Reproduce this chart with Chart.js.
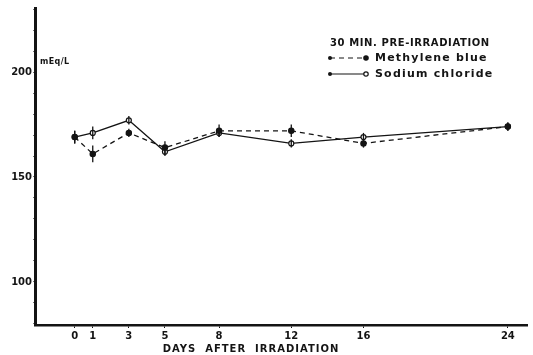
<!DOCTYPE html>
<html>
<head>
<meta charset="utf-8">
<script src="https://cdn.jsdelivr.net/npm/chart.js@4/dist/chart.umd.min.js"></script>
<style>
  body { margin: 0; background: #fff; }
  #wrap { width: 533px; height: 355px; }
</style>
</head>
<body>
<div id="wrap"><canvas id="chart" width="533" height="355"></canvas></div>
<script>
// values (mEq/L)
const days = [0, 1, 3, 5, 8, 12, 16, 24];
const methyleneBlue = [169, 161, 171, 164, 172, 172, 166, 174];
const methyleneErr = [3, 4, 2, 3, 3, 3, 2, 2];
const sodiumChloride = [169, 171, 177, 162, 171, 166, 169, 174];
const sodiumErr = [3, 3, 2, 2, 2, 2, 2, 2];
const yLabels = [100, 150, 200];
const legendTitle = "30 MIN. PRE-IRRADIATION";

const ink = "#141414";
const font = '"DejaVu Sans", sans-serif';

// error bars, legend and loose labels
const extras = {
  id: "extras",
  afterDatasetsDraw(chart) {
    const ctx = chart.ctx;
    const xs = chart.scales.x, ys = chart.scales.y;
    ctx.save();
    ctx.strokeStyle = ink;
    ctx.lineWidth = 1.3;
    [[methyleneBlue, methyleneErr], [sodiumChloride, sodiumErr]].forEach(function (pair) {
      pair[0].forEach(function (v, i) {
        var px = xs.getPixelForValue(days[i]);
        ctx.beginPath();
        ctx.moveTo(px, ys.getPixelForValue(v - pair[1][i]));
        ctx.lineTo(px, ys.getPixelForValue(v + pair[1][i]));
        ctx.stroke();
      });
    });

    ctx.fillStyle = ink;
    ctx.textBaseline = "middle";
    ctx.letterSpacing = "0.4px";
    ctx.font = "bold 8px " + font;
    ctx.fillText("mEq/L", 40, 62);

    // legend
    ctx.font = "bold 10px " + font;
    ctx.letterSpacing = "0.6px";
    ctx.fillText(legendTitle, 330, 43);
    ctx.font = "bold 11px " + font;
    ctx.letterSpacing = "1.2px";
    chart.data.datasets.forEach(function (ds, i) {
      var y = 58 + i * 16;
      ctx.beginPath();
      ctx.setLineDash(ds.borderDash || []);
      ctx.lineWidth = 1.2;
      ctx.moveTo(330, y);
      ctx.lineTo(366, y);
      ctx.stroke();
      ctx.setLineDash([]);
      ctx.beginPath();
      ctx.arc(330, y, 2, 0, Math.PI * 2);
      ctx.fillStyle = ink;
      ctx.fill();
      ctx.beginPath();
      ctx.arc(366, y, 2.2, 0, Math.PI * 2);
      ctx.fillStyle = ds.pointBackgroundColor;
      ctx.fill();
      ctx.stroke();
      ctx.fillStyle = ink;
      ctx.fillText(ds.label, 375, y);
    });

    // x axis title
    ctx.font = "bold 10px " + font;
    ctx.letterSpacing = "1px";
    ctx.textAlign = "center";
    ctx.fillText("DAYS  AFTER  IRRADIATION", 251, 349);
    ctx.restore();
  }
};

new Chart(document.getElementById("chart"), {
  type: "line",
  data: {
    datasets: [
      {
        label: "Methylene blue",
        data: days.map(function (d, i) { return { x: d, y: methyleneBlue[i] }; }),
        borderColor: ink,
        borderWidth: 1.3,
        borderDash: [5, 4],
        pointRadius: 2.6,
        pointBackgroundColor: ink,
        pointBorderColor: ink,
        tension: 0
      },
      {
        label: "Sodium chloride",
        data: days.map(function (d, i) { return { x: d, y: sodiumChloride[i] }; }),
        borderColor: ink,
        borderWidth: 1.3,
        pointRadius: 2.5,
        pointBackgroundColor: "#fff",
        pointBorderColor: ink,
        pointBorderWidth: 1.2,
        tension: 0
      }
    ]
  },
  options: {
    responsive: false,
    animation: false,
    devicePixelRatio: 1,
    layout: { padding: { top: 8, right: 3 } },
    plugins: { legend: { display: false }, tooltip: { enabled: false } },
    scales: {
      x: {
        type: "linear",
        min: -2.2,
        max: 25.1,
        afterBuildTicks: function (scale) {
          scale.ticks = days.map(function (d) { return { value: d }; });
        },
        afterFit: function (scale) { scale.height = 30; },
        border: { display: true, color: ink, width: 2.5 },
        grid: { drawOnChartArea: false, drawTicks: true, tickLength: 3, color: ink },
        ticks: { color: ink, padding: 2, font: { family: font, size: 10, weight: "bold" }, maxRotation: 0 }
      },
      y: {
        min: 79.5,
        max: 230.5,
        afterBuildTicks: function (scale) {
          var t = [];
          for (var v = 80; v <= 230; v += 10) t.push({ value: v });
          scale.ticks = t;
        },
        afterFit: function (scale) { scale.width = 35; },
        border: { display: true, color: ink, width: 3 },
        grid: { drawOnChartArea: false, drawTicks: true, tickLength: 2, color: "#777" },
        ticks: {
          color: ink,
          padding: 1,
          autoSkip: false,
          font: { family: font, size: 10, weight: "bold" },
          callback: function (v) { return yLabels.indexOf(v) >= 0 ? String(v) : ""; }
        }
      }
    }
  },
  plugins: [extras]
});
</script>
</body>
</html>
